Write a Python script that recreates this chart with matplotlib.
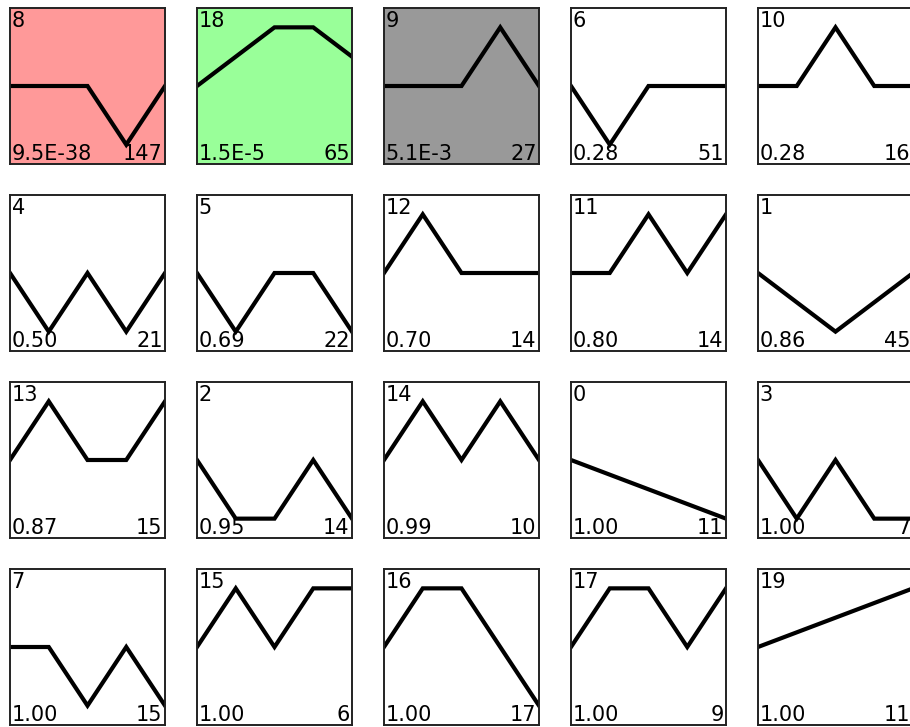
import matplotlib
matplotlib.use("Agg")
import matplotlib.pyplot as plt

# profile ids, in display order (row by row)
profile_ids = [8, 18, 9, 6, 10,
               4, 5, 12, 11, 1,
               13, 2, 14, 0, 3,
               7, 15, 16, 17, 19]

p_values = ["9.5E-38", "1.5E-5", "5.1E-3", "0.28", "0.28",
            "0.50", "0.69", "0.70", "0.80", "0.86",
            "0.87", "0.95", "0.99", "1.00", "1.00",
            "1.00", "1.00", "1.00", "1.00", "1.00"]

gene_counts = [147, 65, 27, 51, 16,
               21, 22, 14, 14, 45,
               15, 14, 10, 11, 7,
               15, 6, 17, 9, 11]

# scaled model profiles (5 time points)
profiles = [
    [0, 0, 0, -1, 0],
    [0, 0.5, 1, 1, 0.5],
    [0, 0, 0, 1, 0],
    [0, -1, 0, 0, 0],
    [0, 0, 1, 0, 0],
    [0, -1, 0, -1, 0],
    [0, -1, 0, 0, -1],
    [0, 1, 0, 0, 0],
    [0, 0, 1, 0, 1],
    [0, -0.5, -1, -0.5, 0],
    [0, 1, 0, 0, 1],
    [0, -1, -1, 0, -1],
    [0, 1, 0, 1, 0],
    [0, -0.25, -0.5, -0.75, -1],
    [0, -1, 0, -1, -1],
    [0, 0, -1, 0, -1],
    [0, 1, 0, 1, 1],
    [0, 1, 1, 0, -1],
    [0, 1, 1, 0, 1],
    [0, 0.25, 0.5, 0.75, 1],
]

# significant profiles get a coloured background
highlight = {8: "#ff9999", 18: "#99ff99", 9: "#999999"}

W, H = 910, 727
fig = plt.figure(figsize=(W / 100, H / 100), dpi=100)

box = 155
step = 187
x0, y0 = 10, 8
ncol = 5

for i, pid in enumerate(profile_ids):
    r, c = divmod(i, ncol)
    left = x0 + c * step
    top = y0 + r * step
    ax = fig.add_axes([left / W, 1 - (top + box + 1) / H, box / W, (box + 1) / H])
    ax.set_facecolor(highlight.get(pid, "white"))
    ax.plot(range(len(profiles[i])), profiles[i], color="black", lw=3.0,
            solid_joinstyle="miter")
    ax.set_xlim(0, 4)
    ax.set_ylim(-1.33, 1.33)
    ax.set_xticks([])
    ax.set_yticks([])
    for s in ax.spines.values():
        s.set_linewidth(1.4)
        s.set_color("#222222")
    ax.text(0.01, 0.98, str(pid), transform=ax.transAxes, ha="left", va="top",
            fontsize=15, color="black")
    ax.text(0.01, 0.0, p_values[i], transform=ax.transAxes, ha="left",
            va="bottom", fontsize=15, color="black")
    ax.text(0.985, 0.0, str(gene_counts[i]), transform=ax.transAxes,
            ha="right", va="bottom", fontsize=15, color="black")

fig.savefig("out.png", dpi=100)
